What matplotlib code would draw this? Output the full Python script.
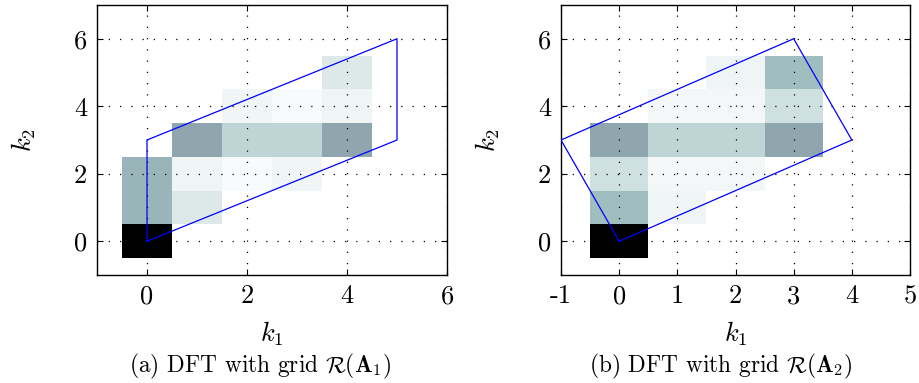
import matplotlib
matplotlib.use("Agg")
import matplotlib.pyplot as plt
import numpy as np

plt.rcParams['mathtext.fontset'] = 'cm'
plt.rcParams['font.family'] = ['cmr10', 'DejaVu Serif']
plt.rcParams['axes.unicode_minus'] = False

# magnitudes (0 = white, 1 = black), rows k2 = 0..5, columns k1 = 0..
mag_a = np.array([
    [1.00, 0.00, 0.00, 0.00, 0.00],
    [0.31, 0.10, 0.00, 0.00, 0.00],
    [0.31, 0.05, 0.023, 0.044, 0.00],
    [0.00, 0.363, 0.19, 0.19, 0.363],
    [0.00, 0.00, 0.044, 0.023, 0.05],
    [0.00, 0.00, 0.00, 0.00, 0.10],
])
mag_b = np.array([
    [1.00, 0.00, 0.00, 0.00],
    [0.283, 0.05, 0.00, 0.00],
    [0.138, 0.037, 0.037, 0.00],
    [0.363, 0.19, 0.19, 0.363],
    [0.00, 0.037, 0.037, 0.138],
    [0.00, 0.00, 0.05, 0.283],
])

# sampling grid outlines (parallelograms)
poly_a_k1 = [0, 5, 5, 0, 0]
poly_a_k2 = [0, 3, 6, 3, 0]
poly_b_k1 = [0, 4, 3, -1, 0]
poly_b_k2 = [0, 3, 6, 3, 0]

xticks_a = [0, 2, 4, 6]
xticks_b = [-1, 0, 1, 2, 3, 4, 5]
yticks = [0, 2, 4, 6]

captions = [r'(a) DFT with grid $\mathcal{R}(\mathbf{A}_1)$',
            r'(b) DFT with grid $\mathcal{R}(\mathbf{A}_2)$']

fig = plt.figure(figsize=(9.19, 3.83), dpi=100)
ax1 = fig.add_axes([97/919, 1-275/383, 350/919, 270/383])
ax2 = fig.add_axes([561/919, 1-275/383, 349/919, 270/383])

panels = [(ax1, mag_a, poly_a_k1, poly_a_k2, xticks_a, (-1, 6)),
          (ax2, mag_b, poly_b_k1, poly_b_k2, xticks_b, (-1, 5))]

for ax, mag, px, py, xt, xl in panels:
    n2, n1 = mag.shape
    xe = np.arange(n1 + 1) - 0.5
    ye = np.arange(n2 + 1) - 0.5
    ax.pcolormesh(xe, ye, mag, cmap='bone_r', vmin=0, vmax=1, zorder=1)
    ax.plot(px, py, color='#0000ff', lw=0.9, zorder=3)
    ax.set_xlim(*xl)
    ax.set_ylim(-1, 7)
    ax.set_xticks(xt)
    ax.set_xticklabels([str(t) for t in xt])
    ax.set_yticks(yticks)
    ax.set_yticklabels([str(t) for t in yticks])
    ax.tick_params(direction='in', top=True, right=True, length=4,
                   width=0.8, labelsize=19, pad=7)
    ax.grid(True, color='black', linestyle=(0, (1, 8)), linewidth=0.9)
    ax.set_axisbelow(False)
    for s in ax.spines.values():
        s.set_linewidth(1.0)
    ax.set_xlabel(r'$k_1$', fontsize=19, labelpad=8)
    ax.set_ylabel(r'$k_2$', fontsize=19, labelpad=26)

fig.text(260/919, 1-366/383, captions[0], fontsize=16.8, ha='center', va='center')
fig.text(721/919, 1-366/383, captions[1], fontsize=16.8, ha='center', va='center')

fig.savefig('out.png', dpi=100)
